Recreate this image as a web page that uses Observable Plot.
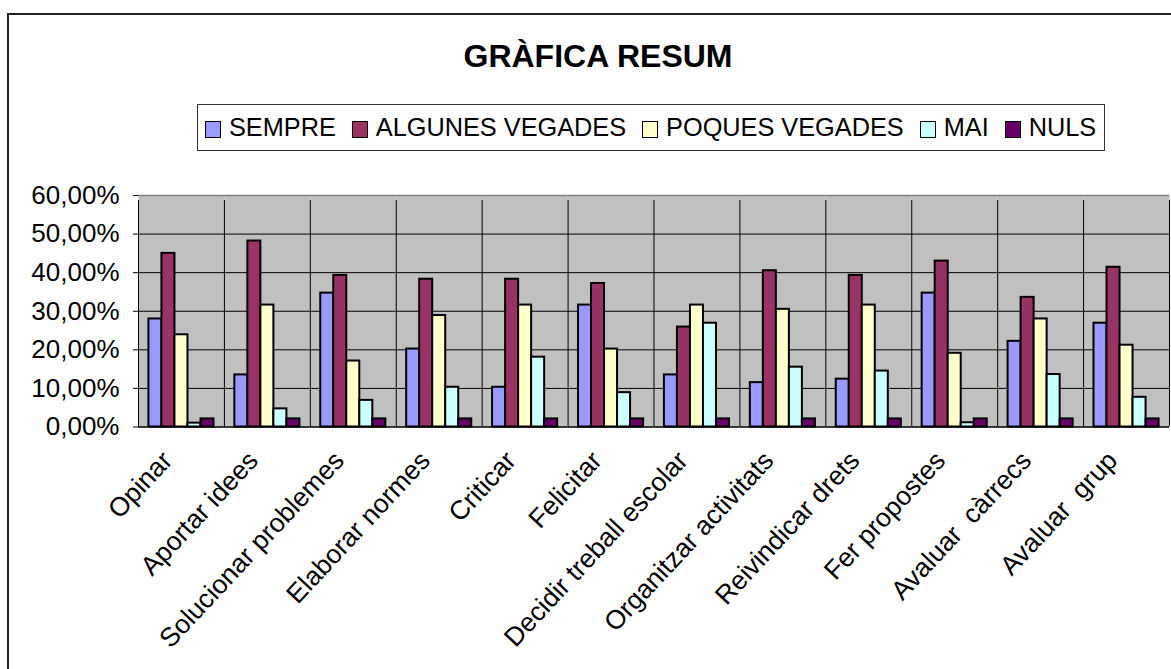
<!DOCTYPE html>
<html>
<head>
<meta charset="utf-8">
<script src="https://cdn.jsdelivr.net/npm/d3@7"></script>
<script src="https://cdn.jsdelivr.net/npm/@observablehq/plot@0.6"></script>
<style>
  html, body { margin: 0; padding: 0; background: #fff; overflow: hidden; }
  #wrap { position: relative; width: 1171px; height: 669px; overflow: hidden; font-family: "Liberation Sans", Arial, sans-serif; }
  #border { position: absolute; left: 7px; top: 13px; width: 1300px; height: 800px; border-left: 2px solid #222; border-top: 2px solid #222; }
  #title { position: absolute; left: 0; top: 40px; width: 1196px; text-align: center; font-size: 32px; line-height: 32px; font-weight: bold; color: #000; }
  #legend { position: absolute; left: 197px; top: 104px; width: 908px; height: 47px; box-sizing: border-box; border: 1.5px solid #333; display: flex; flex-wrap: nowrap; align-items: center; padding-left: 7px; font-size: 25.3px; color: #000; white-space: nowrap; }
  .item { display: flex; flex: 0 0 auto; align-items: center; margin-right: 16px; white-space: nowrap; }
  .sw { flex: 0 0 auto; width: 14px; height: 15px; border: 1px solid #000; margin-right: 8px; margin-top: 4px; }
  #chart { position: absolute; left: 0; top: 160px; }
  #chart svg text { white-space: pre; }
</style>
</head>
<body>
<div id="wrap">
  <div id="border"></div>
  <div id="title">GRÀFICA RESUM</div>
  <div id="legend"></div>
  <div id="chart"></div>
</div>
<script>
const categories = ["Opinar", "Aportar idees", "Solucionar problemes", "Elaborar normes", "Criticar", "Felicitar", "Decidir treball escolar", "Organitzar activitats", "Reivindicar drets", "Fer propostes", "Avaluar  càrrecs", "Avaluar  grup"];
const series = ["SEMPRE", "ALGUNES VEGADES", "POQUES VEGADES", "MAI", "NULS"];
const colors = ["#9999FF", "#993366", "#FFFFCC", "#CCFFFF", "#660066"];
const sempre  = [28.0, 13.5, 34.7, 20.2, 10.3, 31.6, 13.5, 11.5, 12.4, 34.7, 22.2, 26.9];
const algunes = [45.0, 48.2, 39.3, 38.3, 38.3, 37.2, 25.9, 40.5, 39.3, 43.0, 33.6, 41.4];
const poques  = [23.9, 31.6, 17.1, 28.9, 31.6, 20.2, 31.6, 30.5, 31.6, 19.1, 28.0, 21.2];
const mai     = [1.0, 4.7, 6.9, 10.3, 18.1, 8.9, 26.9, 15.5, 14.5, 1.1, 13.6, 7.7];
const nuls    = [2.1, 2.1, 2.1, 2.1, 2.1, 2.1, 2.1, 2.1, 2.1, 2.1, 2.1, 2.1];
const yTicks = [0, 10, 20, 30, 40, 50, 60];

const seriesValues = [sempre, algunes, poques, mai, nuls];
const rows = categories.flatMap((c, i) => series.map((s, j) => ({cat: c, series: s, value: seriesValues[j][i]})));

// legend
const legend = document.getElementById("legend");
series.forEach((s, j) => {
  const it = document.createElement("div");
  it.className = "item";
  const sw = document.createElement("div");
  sw.className = "sw";
  sw.style.background = colors[j];
  const t = document.createElement("span");
  t.textContent = s;
  it.appendChild(sw); it.appendChild(t);
  legend.appendChild(it);
});

const W = 1171, H = 509, mL = 138, mR = 2, mT = 35, mB = 242.5;
const pOuter = 0.8;
const facetW = (W - mL - mR) / categories.length;
const step = facetW / (series.length + 2 * pOuter);
const edge = (pOuter + 0.5) * step;
const fmt = v => v.toFixed(2).replace(".", ",") + "%";

const chart = Plot.plot({
  width: W, height: H,
  marginLeft: mL, marginRight: mR, marginTop: mT, marginBottom: mB,
  style: {fontFamily: "'Liberation Sans', Arial, sans-serif", fontSize: "26px", color: "#000", background: "transparent"},
  fx: {domain: categories, padding: 0, round: false, label: null},
  x: {domain: series, paddingInner: 0, paddingOuter: pOuter, round: false, axis: null},
  y: {domain: [0, 60], ticks: yTicks, tickFormat: fmt, tickSize: 5, tickPadding: 14, label: null},
  color: {domain: series, range: colors},
  marks: [
    Plot.frame({fill: "#C0C0C0", stroke: null}),
    Plot.ruleY(yTicks.slice(1, -1), {stroke: "#000", strokeWidth: 1}),
    Plot.ruleY([60], {stroke: "#808080", strokeWidth: 1.5}),
    Plot.barY(rows, {fx: "cat", x: "series", y: "value", fill: "series", stroke: "#000", strokeWidth: 2}),
    Plot.ruleX(categories.map(c => ({cat: c})), {fx: "cat", x: () => series[0], dx: -edge, y1: () => 0, y2: () => 60, insetBottom: -5, stroke: "#000", strokeWidth: 1}),
    Plot.ruleX([{cat: categories[categories.length - 1]}], {fx: "cat", x: () => series[series.length - 1], dx: edge, y1: () => 0, y2: () => 60, insetBottom: -5, stroke: "#000", strokeWidth: 1}),
    Plot.ruleY([0], {stroke: "#000", strokeWidth: 1.5}),
    Plot.axisFx({anchor: "bottom", tickRotate: -47, tickSize: 0, tickPadding: 12, fontSize: 26.5, dx: -14, dy: 17, label: null})
  ]
});
document.getElementById("chart").appendChild(chart);
</script>
</body>
</html>
